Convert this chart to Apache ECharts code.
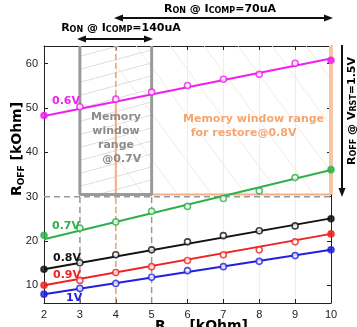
<!DOCTYPE html>
<html><head><meta charset="utf-8">
<script src="https://cdn.jsdelivr.net/npm/echarts@6/dist/echarts.min.js"></script>
<style>html,body{margin:0;padding:0;background:#fff}#c{width:357px;height:327px}</style>
</head><body><div id="c"></div>
<script>
// ---- data ----
const xValues = [2, 3, 4, 5, 6, 7, 8, 9, 10];
const r06 = [48.3, 50.3, 52.0, 53.6, 55.1, 56.5, 57.6, 60.1, 60.8];
const r07 = [21.3, 22.9, 24.3, 26.7, 27.8, 29.6, 31.3, 34.3, 36.1];
const r08 = [13.6, 15.1, 16.9, 18.0, 19.8, 21.2, 22.3, 23.4, 25.0];
const r09 = [10.0, 11.1, 12.9, 14.2, 15.6, 16.9, 18.0, 19.8, 21.6];
const r10 = [8.0, 9.3, 10.4, 11.8, 13.3, 14.2, 15.4, 16.7, 18.0];
// linear fit end points (x=2, x=10)
const fit06 = [48.2, 61.2];
const fit07 = [20.4, 36.0];
const fit08 = [13.6, 25.1];
const fit09 = [10.0, 21.6];
const fit10 = [8.0, 18.0];
const seriesNames = ['0.6V', '0.7V', '0.8V', '0.9V', '1V'];
const yTicks = [10, 20, 30, 40, 50, 60];
const xTicks = [2, 3, 4, 5, 6, 7, 8, 9, 10];
// annotation regions (data units)
const grayWin = {x0: 3, x1: 5, yBottom: 30.5};
const orangeWin = {x0: 4, x1: 10, yBottom: 30.5};
const threshold = 30;

const Y_MIN = 6, Y_MAX = 64;
const colors = ['#f01ef0', '#2eb04a', '#111111', '#ee2222', '#2020e0'];

function hatch(w, h, color, dir) {
  const c = document.createElement('canvas');
  c.width = w; c.height = h;
  const g = c.getContext('2d');
  g.strokeStyle = color; g.lineWidth = 1;
  g.beginPath();
  if (dir > 0) { g.moveTo(0, h); g.lineTo(w, 0); }
  else { g.moveTo(0, 0); g.lineTo(w, h); }
  g.stroke();
  return {image: c, repeat: 'repeat'};
}

const chart = echarts.init(document.getElementById('c'), null, {renderer: 'canvas'});
const allData = [r06, r07, r08, r09, r10];
const fits = [fit06, fit07, fit08, fit09, fit10];

const series = [];
// areas
series.push({
  type: 'line', data: [], silent: true, z: 1,
  markArea: {silent: true, data: [
    [{xAxis: orangeWin.x0, yAxis: orangeWin.yBottom, itemStyle: {color: hatch(34, 46, '#fbe6d8', -1)}}, {xAxis: orangeWin.x1, yAxis: Y_MAX}],
    [{xAxis: grayWin.x0, yAxis: grayWin.yBottom, itemStyle: {color: hatch(48, 13, '#dddddd', 1)}}, {xAxis: grayWin.x1, yAxis: Y_MAX}]
  ]}
});
function seg(pts, color, width, type, z) {
  series.push({type: 'line', data: pts, symbol: 'none', silent: true, z: z || 2,
    lineStyle: {color: color, width: width, type: type || 'solid'}, animation: false});
}
// dashed guides
seg([[xTicks[0], threshold], [xTicks[xTicks.length - 1], threshold]], '#999', 1.5, [6, 4]);
seg([[grayWin.x0, Y_MIN], [grayWin.x0, threshold]], '#999', 1.5, [6, 4]);
seg([[grayWin.x1, Y_MIN], [grayWin.x1, threshold]], '#999', 1.5, [6, 4]);
seg([[orangeWin.x0, Y_MIN], [orangeWin.x0, Y_MAX]], '#f4a36b', 1.5, [6, 3]);
// box edges
seg([[orangeWin.x0, 52], [orangeWin.x0, orangeWin.yBottom], [orangeWin.x1, orangeWin.yBottom]], '#f4b088', 2);
seg([[orangeWin.x1, orangeWin.yBottom], [orangeWin.x1, Y_MAX]], '#f6c6a4', 4);
seg([[grayWin.x0, Y_MAX], [grayWin.x0, grayWin.yBottom], [grayWin.x1, grayWin.yBottom], [grayWin.x1, Y_MAX]], '#9a9a9a', 3);

allData.forEach((arr, i) => {
  series.push({
    name: seriesNames[i], type: 'line', z: 5, symbol: 'none',
    data: [[xValues[0], fits[i][0]], [xValues[xValues.length - 1], fits[i][1]]],
    lineStyle: {color: colors[i], width: 2}, animation: false
  });
  series.push({
    type: 'scatter', z: 6, symbolSize: 6,
    data: xValues.map((x, k) => {
      const endp = (k === 0 || k === xValues.length - 1);
      return {value: [x, arr[k]], itemStyle: {color: endp ? colors[i] : '#fff', borderColor: colors[i], borderWidth: 1.6}};
    }),
    animation: false
  });
});

const axisCommon = {
  axisLine: {show: true, lineStyle: {color: '#222', width: 1}},
  axisTick: {show: true, inside: true, length: 4, lineStyle: {color: '#222'}},
};

const FF = 'DejaVu Sans';
const sub = {fontSize: 8, fontWeight: 'bold', fontFamily: FF, color: '#111', verticalAlign: 'bottom', lineHeight: 14, padding: [0, 0, 0, 0]};
const big = {fontSize: 11, fontWeight: 'bold', fontFamily: FF, color: '#111', verticalAlign: 'bottom', lineHeight: 14};

chart.setOption({
  animation: false,
  grid: {left: 44, right: 26, top: 46, bottom: 24},
  xAxis: [
    Object.assign({type: 'value', min: 2, max: 10, interval: 1,
      axisLabel: {color: '#222', fontSize: 11, fontFamily: 'Liberation Sans', margin: 6},
      splitLine: {show: true, lineStyle: {color: '#eeeeee'}}}, axisCommon),
    Object.assign({type: 'value', min: 2, max: 10, interval: 1, position: 'top',
      axisLabel: {show: false}, splitLine: {show: false}}, axisCommon)
  ],
  yAxis: [
    Object.assign({type: 'value', min: Y_MIN, max: Y_MAX,
      axisLabel: {color: '#222', fontSize: 11, fontFamily: 'Liberation Sans', margin: 6, customValues: yTicks},
      axisTick: {show: true, inside: true, length: 4, customValues: yTicks, lineStyle: {color: '#222'}},
      splitLine: {show: false}}, {axisLine: axisCommon.axisLine}),
    Object.assign({type: 'value', min: Y_MIN, max: Y_MAX, position: 'right',
      axisLabel: {show: false, customValues: yTicks},
      axisTick: {show: true, inside: true, length: 4, customValues: yTicks, lineStyle: {color: '#222'}},
      splitLine: {show: false}}, {axisLine: axisCommon.axisLine})
  ],
  series: series,
  graphic: [
    // y axis name
    {type: 'text', x: 17, y: 149, rotation: Math.PI / 2,
      style: {text: '{a|R}{b|OFF}{a| [kOhm]}', align: 'center', verticalAlign: 'middle',
        rich: {a: {fontSize: 14, fontWeight: 'bold', fontFamily: FF, color: '#111'},
               b: {fontSize: 9, fontWeight: 'bold', fontFamily: FF, color: '#111', padding: [10, 0, 0, 0]}}}},
    // x axis name (cut at the bottom)
    {type: 'text', x: 155, y: 317,
      style: {text: '{a|R}{b|SET}{a| [kOhm]}', align: 'left', verticalAlign: 'top',
        rich: {a: {fontSize: 14, fontWeight: 'bold', fontFamily: FF, color: '#111'},
               b: {fontSize: 9, fontWeight: 'bold', fontFamily: FF, color: '#111', padding: [10, 0, 0, 0]}}}},
    // top annotations
    {type: 'text', x: 220, y: 8,
      style: {text: '{a|R}{b|ON}{a| @ I}{b|COMP}{a|=70uA}', align: 'center', verticalAlign: 'middle', rich: {a: big, b: sub}}},
    {type: 'text', x: 121, y: 27,
      style: {text: '{a|R}{b|ON}{a| @ I}{b|COMP}{a|=140uA}', align: 'center', verticalAlign: 'middle', rich: {a: big, b: sub}}},
    {type: 'text', x: 351, y: 111, rotation: Math.PI / 2,
      style: {text: '{a|R}{b|OFF}{a| @ V}{b|RST}{a|=1.5V}', align: 'center', verticalAlign: 'middle', rich: {a: big, b: sub}}},
    // arrows
    {type: 'line', shape: {x1: 120, y1: 18, x2: 326, y2: 18}, style: {stroke: '#111', lineWidth: 2}},
    {type: 'polygon', shape: {points: [[114, 18], [123, 14.5], [123, 21.5]]}, style: {fill: '#111'}},
    {type: 'polygon', shape: {points: [[333, 18], [324, 14.5], [324, 21.5]]}, style: {fill: '#111'}},
    {type: 'line', shape: {x1: 82, y1: 39, x2: 149, y2: 39}, style: {stroke: '#111', lineWidth: 2}},
    {type: 'polygon', shape: {points: [[77, 39], [86, 35.5], [86, 42.5]]}, style: {fill: '#111'}},
    {type: 'polygon', shape: {points: [[153, 39], [144, 35.5], [144, 42.5]]}, style: {fill: '#111'}},
    {type: 'line', shape: {x1: 342, y1: 45, x2: 342, y2: 190}, style: {stroke: '#111', lineWidth: 2}},
    {type: 'polygon', shape: {points: [[342, 197], [338.5, 188], [345.5, 188]]}, style: {fill: '#111'}},
    // window texts
    {type: 'text', x: 116, y: 138, z: 20,
      style: {text: 'Memory\nwindow\nrange\n   @0.7V', align: 'center', verticalAlign: 'middle', lineHeight: 14,
        fontSize: 11, fontWeight: 'bold', fontFamily: FF, fill: '#8c8c8c'}},
    {type: 'text', x: 183, y: 112, z: 20,
      style: {text: 'Memory window range\n  for restore@0.8V', align: 'left', verticalAlign: 'top', lineHeight: 14,
        fontSize: 11, fontWeight: 'bold', fontFamily: FF, fill: '#f5a570'}},
    // series labels
    {type: 'text', x: 52, y: 101, z: 20, style: {text: seriesNames[0], verticalAlign: 'middle', fontSize: 11, fontWeight: 'bold', fontFamily: FF, fill: colors[0]}},
    {type: 'text', x: 52, y: 226, z: 20, style: {text: seriesNames[1], verticalAlign: 'middle', fontSize: 11, fontWeight: 'bold', fontFamily: FF, fill: colors[1]}},
    {type: 'text', x: 53, y: 258, z: 20, style: {text: seriesNames[2], verticalAlign: 'middle', fontSize: 11, fontWeight: 'bold', fontFamily: FF, fill: colors[2]}},
    {type: 'text', x: 53, y: 275, z: 20, style: {text: seriesNames[3], verticalAlign: 'middle', fontSize: 11, fontWeight: 'bold', fontFamily: FF, fill: colors[3]}},
    {type: 'text', x: 66, y: 298, z: 20, style: {text: seriesNames[4], verticalAlign: 'middle', fontSize: 11, fontWeight: 'bold', fontFamily: FF, fill: colors[4]}}
  ]
});
</script></body></html>
